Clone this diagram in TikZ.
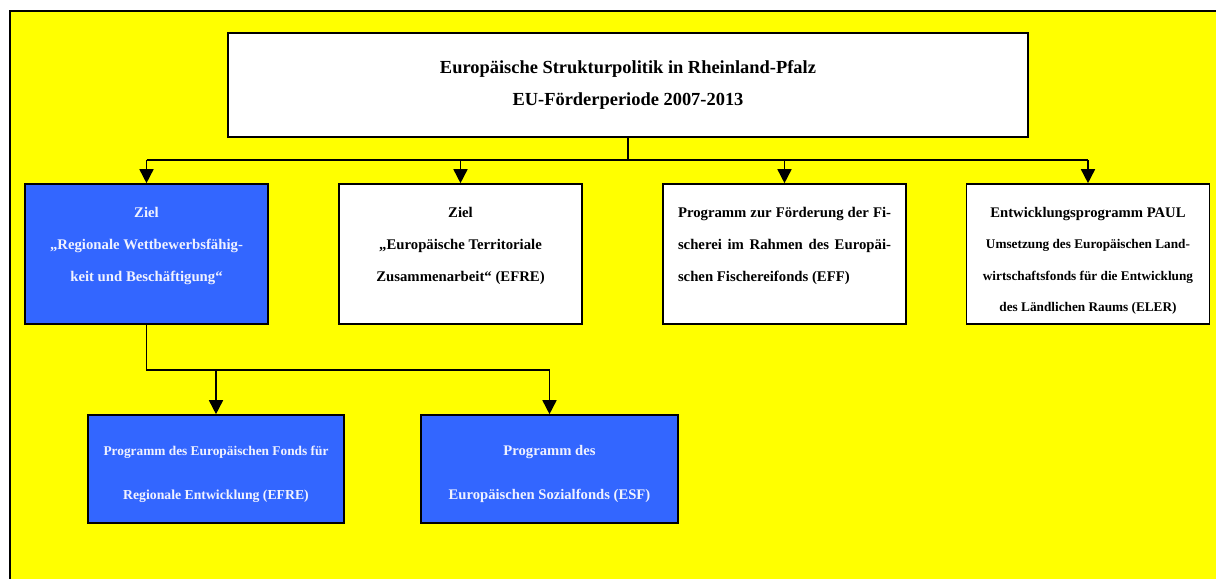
\documentclass[tikz,border=0pt]{standalone}
\usepackage{fontspec}
\setmainfont{Liberation Serif}
\usetikzlibrary{arrows.meta}
\definecolor{bgyellow}{RGB}{255,255,0}
\definecolor{boxblue}{RGB}{51,102,255}
\definecolor{lighttext}{RGB}{240,242,255}
\begin{document}
\begin{tikzpicture}[x=1bp,y=-1bp,
  box/.style={draw=black,line width=1.6bp,inner sep=0pt},
  whitebox/.style={box,fill=white},
  bluebox/.style={box,fill=boxblue},
  label/.style={align=center,inner sep=0pt,font=\bfseries},
  conn/.style={line width=1.6bp},
  arr/.style={conn,-{Triangle[width=14bp,length=14bp]}}]
\useasboundingbox (0,0) rectangle (1216,579);
% background panel
\fill[white] (0,0) rectangle (1216,579);
\fill[bgyellow] (10,11) rectangle (1216,579);
\draw[line width=2bp] (10,579) -- (10,11) -- (1216,11);

% headline box
\node[whitebox,minimum width=800bp,minimum height=104bp] (top) at (628,85) {};
\node[label,font=\bfseries\fontsize{18.5}{33}\selectfont] (topt) at (top.center)
  {Europäische Strukturpolitik in Rheinland-Pfalz\\EU-Förderperiode 2007-2013};

% second row
\node[bluebox,minimum width=243bp,minimum height=140bp] (b1) at (146.5,254) {};
\node[whitebox,minimum width=243bp,minimum height=140bp] (b2) at (460.5,254) {};
\node[whitebox,minimum width=243bp,minimum height=140bp] (b3) at (784.5,254) {};
\node[whitebox,minimum width=243bp,minimum height=140bp] (b4) at (1088,254) {};

\node[label,text=lighttext,font=\bfseries\fontsize{14.8}{32}\selectfont,yshift=8bp] (b1t) at (b1.center)
  {Ziel\\„Regionale Wettbewerbsfähig-\\keit und Beschäftigung“};
\node[label,font=\bfseries\fontsize{14.8}{32}\selectfont,yshift=8bp] (b2t) at (b2.center)
  {Ziel\\„Europäische Territoriale\\Zusammenarbeit“ (EFRE)};
\node[label,font=\bfseries\fontsize{14.8}{32}\selectfont,yshift=8bp] (b3t) at (b3.center)
  {\makebox[213bp][s]{Programm zur Förderung der Fi-}\\
   \makebox[213bp][s]{scherei im Rahmen des Europäi-}\\
   \makebox[213bp][l]{schen Fischereifonds (EFF)}};
\node[label,font=\bfseries\fontsize{13.3}{31.5}\selectfont,yshift=-7bp] (b4t) at (b4.center)
  {{\fontsize{14.7}{31.5}\selectfont Entwicklungsprogramm PAUL}\\Umsetzung des Europäischen Land-\\wirtschaftsfonds für die Entwicklung\\des Ländlichen Raums (ELER)};

% third row
\node[bluebox,minimum width=256bp,minimum height=108bp] (c1) at (216,469) {};
\node[bluebox,minimum width=257bp,minimum height=108bp] (c2) at (549.5,469) {};
\node[label,text=lighttext,font=\bfseries\fontsize{13.4}{44}\selectfont,yshift=-5bp] (c1t) at (c1.center)
  {Programm des Europäischen Fonds für\\{\fontsize{13.8}{44}\selectfont Regionale Entwicklung (EFRE)}};
\node[label,text=lighttext,font=\bfseries\fontsize{14.7}{44}\selectfont,yshift=-5bp] (c2t) at (c2.center)
  {Programm des\\Europäischen Sozialfonds (ESF)};

% connectors from the headline
\coordinate (bus) at (628,160);
\draw[conn] (top.south) -- (bus);
\draw[conn] (bus -| b1.north) -- (bus -| b4.north);
\foreach \n in {b1,b2,b3,b4} \draw[arr] (bus -| \n.north) -- (\n.north);

% connectors from the first goal
\coordinate (split) at (146.5,370);
\draw[conn] (b1.south) -- (split) -- (split -| c2.north);
\foreach \n in {c1,c2} \draw[arr] (split -| \n.north) -- (\n.north);
\end{tikzpicture}
\end{document}
